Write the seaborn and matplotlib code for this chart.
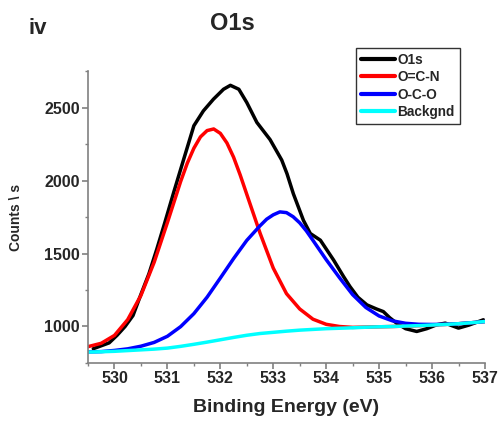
import matplotlib
matplotlib.use("Agg")
import matplotlib.pyplot as plt
import seaborn as sns
import numpy as np
import pandas as pd
from matplotlib.ticker import MultipleLocator

# ---- data ----
energy_raw = [529.6, 529.75, 529.9, 530.05, 530.2, 530.35, 530.5, 530.65, 530.8, 530.95,
              531.12, 531.31, 531.5, 531.68, 531.87, 532.06, 532.19, 532.35, 532.5, 532.69,
              532.94, 533.16, 533.26, 533.38, 533.57, 533.7, 533.89, 534.14, 534.33, 534.45,
              534.6, 534.77, 534.95, 535.08, 535.2, 535.33, 535.5, 535.71, 535.9, 536.09,
              536.25, 536.38, 536.5, 536.7, 536.85, 536.97]
o1s = [848, 868, 888, 940, 1000, 1075, 1220, 1360, 1530, 1710,
       1920, 2148, 2375, 2477, 2557, 2625, 2652, 2625, 2534, 2398,
       2280, 2140, 2046, 1909, 1727, 1637, 1591, 1455, 1341, 1273,
       1200, 1148, 1120, 1102, 1060, 1023, 985, 966, 985, 1012,
       1023, 1005, 989, 1010, 1030, 1046]

energy_ocn = [529.5, 529.75, 530.0, 530.25, 530.5, 530.75, 531.0, 531.25, 531.375, 531.5,
              531.625, 531.75, 531.875, 532.0, 532.125, 532.25, 532.375, 532.5, 532.75, 533.0,
              533.25, 533.5, 533.75, 534.0, 534.25, 534.5, 534.75, 535.0, 535.25, 535.5,
              535.75, 536.0, 536.25, 536.5, 536.75, 537.0]
ocn = [862, 885, 939, 1047, 1213, 1440, 1712, 1993, 2118, 2221,
       2299, 2342, 2353, 2323, 2257, 2160, 2038, 1905, 1640, 1400,
       1225, 1120, 1050, 1015, 1000, 994, 996, 998, 1000, 1003,
       1006, 1010, 1014, 1019, 1026, 1034]

energy_oco = [529.5, 529.75, 530.0, 530.25, 530.5, 530.75, 531.0, 531.25, 531.5, 531.75,
              532.0, 532.25, 532.5, 532.75, 532.875, 533.0, 533.125, 533.25, 533.375, 533.5,
              533.625, 533.75, 534.0, 534.25, 534.5, 534.75, 535.0, 535.25, 535.5, 535.75,
              536.0, 536.25, 536.5, 536.75, 537.0]
oco = [826, 828, 836, 847, 865, 891, 933, 999, 1088, 1201,
       1332, 1465, 1590, 1690, 1735, 1765, 1785, 1780, 1752, 1710,
       1655, 1590, 1458, 1335, 1218, 1130, 1072, 1039, 1022, 1015,
       1014, 1015, 1019, 1026, 1034]

energy_bg = [529.5, 529.75, 530.0, 530.25, 530.5, 530.75, 531.0, 531.25, 531.5, 531.75,
             532.0, 532.25, 532.5, 532.75, 533.0, 533.25, 533.5, 533.75, 534.0, 534.25,
             534.5, 534.75, 535.0, 535.25, 535.5, 535.75, 536.0, 536.25, 536.5, 536.75,
             537.0]
backgnd = [825, 827, 830, 835, 840, 845, 852, 864, 878, 893,
           909, 925, 940, 952, 960, 968, 975, 980, 985, 988,
           991, 995, 998, 1000, 1003, 1006, 1010, 1014, 1019, 1026,
           1034]

labels = ["O1s", "O=C-N", "O-C-O", "Backgnd"]
colors = ["#000000", "#ff0000", "#0000ff", "#00ffff"]
x_ticks = [530, 531, 532, 533, 534, 535, 536, 537]
y_ticks = [1000, 1500, 2000, 2500]

# ---- plot ----
sns.set_style("white")
plt.rcParams["font.family"] = ["Liberation Sans", "DejaVu Sans"]
plt.rcParams["font.weight"] = "bold"

fig = plt.figure(figsize=(5.02, 4.26), dpi=100)
ax = fig.add_axes([0.1753, 0.1479, 0.7908, 0.6854])

series = [
    (energy_raw, o1s),
    (energy_ocn, ocn),
    (energy_oco, oco),
    (energy_bg, backgnd),
]
for (xs, ys), lab, col in zip(series, labels, colors):
    df = pd.DataFrame({"E": xs, "I": ys})
    sns.lineplot(data=df, x="E", y="I", ax=ax, color=col, lw=2.5, label=lab,
                 sort=False, legend=False)

ax.set_xlim(529.5, 537)
ax.set_ylim(750, 2750)
ax.set_xticks(x_ticks)
ax.set_yticks(y_ticks)
ax.xaxis.set_minor_locator(MultipleLocator(0.5))
ax.yaxis.set_minor_locator(MultipleLocator(250))
ax.set_xticklabels([str(v) for v in x_ticks], fontsize=11.5, fontweight="bold")
ax.set_yticklabels([str(v) for v in y_ticks], fontsize=11.5, fontweight="bold")

gray = "#808080"
for s in ["top", "right"]:
    ax.spines[s].set_visible(False)
for s in ["left", "bottom"]:
    ax.spines[s].set_color(gray)
    ax.spines[s].set_linewidth(1.2)
ax.tick_params(which="major", direction="out", length=4, width=1.2, color=gray,
               left=True, bottom=True, pad=2)
ax.tick_params(which="minor", direction="out", length=2.5, width=1.0, color=gray,
               left=True, bottom=True)

ax.set_xlabel("Binding Energy (eV)", fontsize=14, fontweight="bold", labelpad=9)
ax.set_ylabel("Counts \\ s", fontsize=10, fontweight="bold", labelpad=15)

fig.text(232 / 502, 1 - 24 / 426, "O1s", fontsize=17, fontweight="bold",
         ha="center", va="center")
fig.text(38 / 502, 1 - 28 / 426, "iv", fontsize=16, fontweight="bold",
         ha="center", va="center")

handles, labs = ax.get_legend_handles_labels()
leg = fig.legend(handles, labs, loc="upper left",
                 bbox_to_anchor=(356 / 502, 1 - 48 / 426),
                 frameon=True, fancybox=False,
                 prop={"weight": "bold", "size": 9.8},
                 handlelength=2.5, handletextpad=0.2, labelspacing=0.25,
                 borderpad=0.35, borderaxespad=0)
leg.get_frame().set_edgecolor("black")
leg.get_frame().set_linewidth(1.0)
for line in leg.get_lines():
    line.set_linewidth(3.0)

fig.savefig("out.png", dpi=100)
